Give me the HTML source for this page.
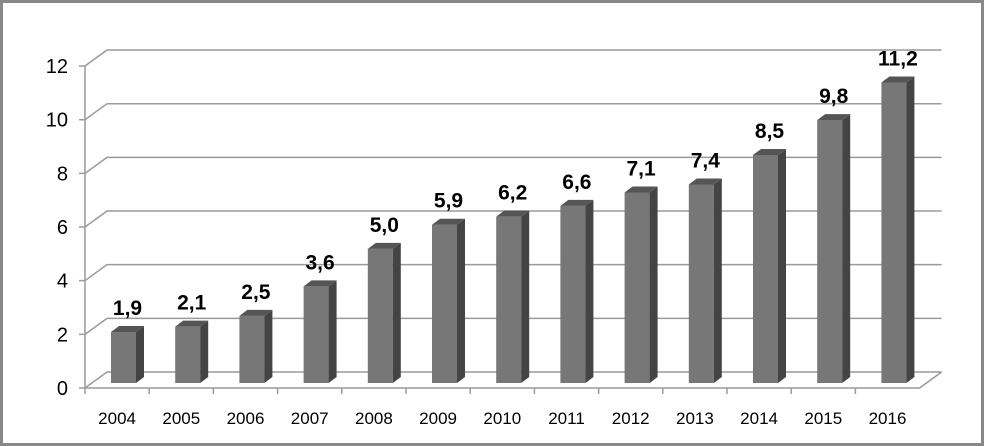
<!DOCTYPE html>
<html><head><meta charset="utf-8"><style>
body{margin:0;background:#fff}
svg{display:block;font-family:"Liberation Sans",sans-serif}
</style></head><body>
<svg id="chart" width="984" height="446" viewBox="0 0 984 446" xmlns="http://www.w3.org/2000/svg">
<rect x="1.5" y="1.5" width="981" height="443" fill="#fff" stroke="#888" stroke-width="3"/>
<g id="grid"></g><g id="bars"></g><g id="labels"></g>
</svg>
<script>
const categories=["2004","2005","2006","2007","2008","2009","2010","2011","2012","2013","2014","2015","2016"];
const values=[1.9,2.1,2.5,3.6,5.0,5.9,6.2,6.6,7.1,7.4,8.5,9.8,11.2];
const valueLabels=["1,9","2,1","2,5","3,6","5,0","5,9","6,2","6,6","7,1","7,4","8,5","9,8","11,2"];
const yTicks=[0,2,4,6,8,10,12];
const NS="http://www.w3.org/2000/svg";
const x0=85,y0=388,scale=26.83,step=64.2,dx=22,dy=-16,xEnd=x0+categories.length*step;
function y(v){return y0-v*scale;}
function mk(tag,attrs,parent){const e=document.createElementNS(NS,tag);for(const k in attrs)e.setAttribute(k,attrs[k]);parent.appendChild(e);return e;}
const grid=document.getElementById('grid'),bars=document.getElementById('bars'),labels=document.getElementById('labels');
const gc="#9a9a9a";
yTicks.forEach(t=>{
  const yy=y(t);
  const g=mk('path',{d:`M${x0-6},${yy}H${x0}L${x0+dx},${yy+dy}H${xEnd+dx}`,fill:'none',stroke:gc,'stroke-width':1.5},grid);
  
  
  const tx=mk('text',{x:68,y:yy+7,'text-anchor':'end','font-size':20,fill:'#000'},labels);
  tx.textContent=t;
  
  
});
const ax=mk('path',{d:`M${x0},${y(12)}V${y0}H${xEnd}L${xEnd+dx},${y0+dy}`,fill:'none',stroke:gc,'stroke-width':1.5},grid);


categories.forEach((c,i)=>{
  const tx0=x0+i*step;
  const tk=mk('path',{d:`M${tx0},${y0}v6`,stroke:gc,'stroke-width':1.5},grid);
  
  
  const lb=mk('text',{x:tx0+step/2,y:424,'text-anchor':'middle','font-size':17,fill:'#000'},labels);
  lb.textContent=c;
  
  
  const bx=tx0+26,bw=25,base=383,top=base-values[i]*scale,sd=8,st=6;
  const g=mk('g',{},bars);
  
  
  mk('rect',{x:bx,y:top,width:bw,height:base-top,fill:'#777'},g);
  mk('path',{d:`M${bx+bw},${top}l${sd},${-st}V${base-st}l${-sd},${st}Z`,fill:'#444'},g);
  mk('path',{d:`M${bx},${top}l${sd},${-st}h${bw}l${-sd},${st}Z`,fill:'#555'},g);
  const vl=mk('text',{x:bx+bw/2+4,y:top-17,'text-anchor':'middle','font-size':21,'font-weight':'bold',fill:'#000'},labels);
  vl.textContent=valueLabels[i];
  
  
});
</script>
</body></html>
